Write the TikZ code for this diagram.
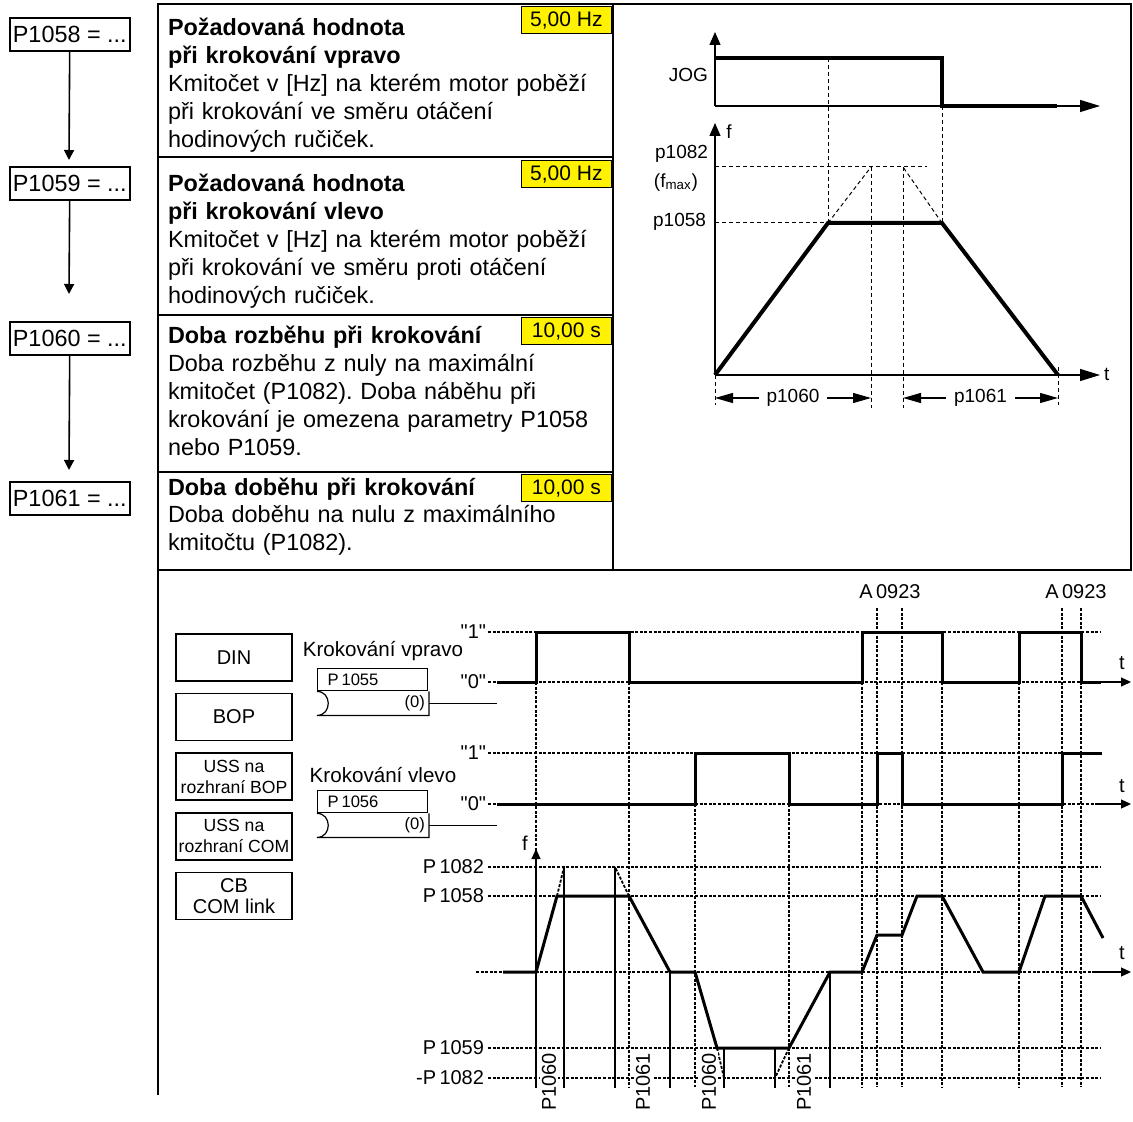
\documentclass[tikz,border=0pt]{standalone}
\usepackage{fontspec}
\newfontfamily\lsans{Liberation Sans}
\usetikzlibrary{arrows.meta, positioning}
\frenchspacing
\tikzset{
  every picture/.style={line width=1pt},
  frameline/.style={line width=1pt},
  parbox/.style={draw, line width=0.8pt, font=\lsans\fontsize{11.7}{14}\selectfont, minimum width=60pt, minimum height=16.5pt, inner sep=0pt, anchor=north west},
  desc/.style={font=\lsans\fontsize{11.7}{13.9}\selectfont, text width=222pt, align=left, inner sep=0pt, anchor=base west},
  val/.style={draw, fill=yellow, line width=0.6pt, font=\lsans\fontsize{10.5}{12}\selectfont, minimum width=45pt, minimum height=13.5pt, inner sep=0pt, anchor=north east},
  flow/.style={-{Triangle[length=5pt, width=5pt]}, line width=0.8pt},
  lbl/.style={font=\lsans\fontsize{10}{12}\selectfont, inner sep=0pt},
  sml/.style={font=\lsans\fontsize{9.5}{11}\selectfont, inner sep=0pt},
  tiny/.style={font=\lsans\fontsize{8.3}{10}\selectfont, inner sep=0pt},
  src/.style={draw, line width=0.8pt, minimum width=58pt, minimum height=23.5pt, inner sep=1pt, align=center, font=\lsans\fontsize{10}{10.5}\selectfont},
  pbox/.style={draw, line width=0.7pt, anchor=north west, text width=45pt, inner xsep=5pt, inner ysep=0pt, minimum height=11pt, align=left, font=\lsans\fontsize{8.3}{10}\selectfont},
  heavy/.style={line width=2pt},
  sig/.style={line width=1.5pt},
  tline/.style={line width=0.6pt},
  fine/.style={line width=0.5pt, dash pattern=on 2pt off 1.5pt},
  dotgrid/.style={line width=0.9pt, dash pattern=on 1.5pt off 0.8pt},
  vaxis/.style={-{Triangle[length=6.5pt, width=5.5pt]}, line width=0.6pt},
  haxis/.style={-{Triangle[length=10pt, width=6pt]}, line width=0.6pt},
  dim/.style={{Triangle[length=9pt, width=5pt]}-{Triangle[length=9pt, width=5pt]}, line width=0.6pt},
  taxis/.style={-{Triangle[length=5pt, width=4.5pt]}, line width=0.6pt},
}
\begin{document}
\begin{tikzpicture}[x=0.5pt, y=-0.5pt]
  \useasboundingbox (0,0) rectangle (1133,1122);
  % ---- frame ----
  \draw[frameline] (158,1095) -- (158,4) -- (1131,4) -- (1131,570) -- (158,570);
  \draw[frameline] (613,4) -- (613,570);
  \draw[frameline] (158,157) -- (613,157) (158,315) -- (613,315) (158,472) -- (613,472);
  % ---- parameter boxes (left) ----
  \node[parbox] (p1058) at (9,17) {P1058 = ...};
  \node[parbox] (p1059) at (9,166) {P1059 = ...};
  \node[parbox] (p1060) at (9,321) {P1060 = ...};
  \node[parbox] (p1061) at (9,481) {P1061 = ...};
  \coordinate (e1) at (69,160);
  \coordinate (e2) at (69,294);
  \coordinate (e3) at (69,470);
  \draw[flow] (p1058) -- (e1);
  \draw[flow] (p1059) -- (e2);
  \draw[flow] (p1060) -- (e3);
  % ---- descriptions ----
  \node[desc] (d1058) at (167,36) {\textbf{Požadovaná hodnota}\\\textbf{při krokování vpravo}\\Kmitočet v [Hz] na kterém motor poběží\\při krokování ve směru otáčení\\hodinových ručiček.};
  \node[desc] (d1059) at (167,192) {\textbf{Požadovaná hodnota}\\\textbf{při krokování vlevo}\\Kmitočet v [Hz] na kterém motor poběží\\při krokování ve směru proti otáčení\\hodinových ručiček.};
  \node[desc] (d1060) at (167,344) {\textbf{Doba rozběhu při krokování}\\Doba rozběhu z nuly na maximální\\kmitočet (P1082). Doba náběhu při\\krokování je omezena parametry P1058\\nebo P1059.};
  \node[desc] (d1061) at (167,495) {\textbf{Doba doběhu při krokování}\\Doba doběhu na nulu z maximálního\\kmitočtu (P1082).};
  \node[val] (v1058) at (612,6) {5,00 Hz};
  \node[val] (v1059) at (612,160) {5,00 Hz};
  \node[val] (v1060) at (612,317) {10,00 s};
  \node[val] (v1061) at (612,474) {10,00 s};
  % ---- JOG / f chart (top right) ----
  \draw[vaxis] (715,106) -- (715,32);
  \draw[haxis] (715,106) -- (1100,106);
  \node[sml, anchor=east] at (709,75) {JOG};
  \draw[fine] (828,58) -- (828,223) (942,106) -- (942,223);
  \draw[heavy] (715,58) -- (942,58) -- (942,106) -- (1057,106);
  \draw[vaxis] (715,375) -- (715,123);
  \draw[haxis] (715,375) -- (1100,375);
  \node[sml] at (729,132) {f};
  \node[sml, anchor=west] at (1103,374) {t};
  \draw[fine] (715,167) -- (927,167) (715,223) -- (828,223);
  \draw[fine] (828,223) -- (871,167) (942,223) -- (903,167);
  \draw[fine] (871,167) -- (871,408) (903,167) -- (903,408);
  \draw[fine] (715,375) -- (715,405) (1058,367) -- (1058,405);
  \draw[heavy] (715,375) -- (828,223) -- (942,223) -- (1058,375);
  \node[sml, anchor=east] at (709,154) {p1082};
  \node[sml, anchor=east] at (699,183) {(f\textsubscript{max})};
  \node[sml, anchor=east] at (707,222) {p1058};
  \draw[dim] (715,398) -- node[sml, fill=white, inner xsep=4pt, inner ysep=1pt] {p1060} (871,398);
  \draw[dim] (903,398) -- node[sml, fill=white, inner xsep=4pt, inner ysep=1pt] {p1061} (1058,398);
  % ---- command sources (bottom left) ----
  \node[src] (din) at (234,657.5) {DIN};
  \node[src, below=5.5pt of din] (bop) {BOP};
  \node[src, below=5.5pt of bop, font=\lsans\fontsize{8.8}{10.5}\selectfont] (ussbop) {USS na\\rozhraní BOP};
  \node[src, below=5.5pt of ussbop, font=\lsans\fontsize{8.8}{10.5}\selectfont] (usscom) {USS na\\rozhraní COM};
  \node[src, below=5.5pt of usscom] (cb) {CB\\COM link};
  % ---- jog inputs ----
  \node[lbl, font=\lsans\fontsize{10.3}{12}\selectfont] (jr) at (383,651) {Krokování vpravo};
  \node[pbox] (p1055) at (317,668) {P\,1055};
  \node[anchor=north west, minimum width=55pt, minimum height=11pt, inner sep=0pt] (s1055) at (p1055.south west) {};
  \draw[tline] (s1055.north west) .. controls +(15,0) and +(15,0) .. (s1055.south west) -- (s1055.south east) -- (s1055.north east);
  \node[tiny, anchor=east] at ([xshift=-1.5pt]s1055.east) {(0)};
  \coordinate (o1055) at ([xshift=34pt]s1055.east);
  \draw[tline] (s1055.east) -- (o1055);
  \node[lbl, font=\lsans\fontsize{10.3}{12}\selectfont] (jl) at (383,775) {Krokování vlevo};
  \node[pbox] (p1056) at (317,790) {P\,1056};
  \node[anchor=north west, minimum width=55pt, minimum height=11pt, inner sep=0pt] (s1056) at (p1056.south west) {};
  \draw[tline] (s1056.north west) .. controls +(15,0) and +(15,0) .. (s1056.south west) -- (s1056.south east) -- (s1056.north east);
  \node[tiny, anchor=east] at ([xshift=-1.5pt]s1056.east) {(0)};
  \coordinate (o1056) at ([xshift=34pt]s1056.east);
  \draw[tline] (s1056.east) -- (o1056);
  % ---- timing diagram ----
  \draw[dotgrid] (488,632) -- (1100,632) (488,682) -- (1100,682) (488,753) -- (1100,753) (488,804) -- (1100,804);
  \draw[dotgrid] (488,867) -- (1100,867) (488,896) -- (1100,896) (476,972) -- (1100,972) (488,1048) -- (1100,1048) (488,1078) -- (1100,1078);
  \draw[dotgrid] (536,682) -- (536,1087) (629,682) -- (629,1087) (695,804) -- (695,1087) (789,804) -- (789,1087)
                 (862,682) -- (862,1087) (942,682) -- (942,1087) (1019,682) -- (1019,1087);
  \draw[dotgrid] (877,608) -- (877,1087) (902,608) -- (902,1087) (1062,608) -- (1062,1087) (1081,608) -- (1081,1087);
  \draw[dotgrid] (557,896) -- (564,867) (629,896) -- (615,867) (717,1048) -- (724,1078) (789,1048) -- (775,1078);
  \node[lbl] at (890,592) {A\,0923};
  \node[lbl] at (1076,592) {A\,0923};
  \node[lbl, anchor=east] at (487,632) {"1"};
  \node[lbl, anchor=east] at (487,682) {"0"};
  \node[lbl, anchor=east] at (487,753) {"1"};
  \node[lbl, anchor=east] at (487,804) {"0"};
  \node[lbl, anchor=east] at (485,867) {P\,1082};
  \node[lbl, anchor=east] at (485,896) {P\,1058};
  \node[lbl, anchor=east] at (485,1048) {P\,1059};
  \node[lbl, anchor=east] at (485,1078) {-P\,1082};
  \draw[taxis] (1095,682) -- (1131,682);
  \draw[taxis] (1095,804) -- (1131,804);
  \draw[taxis] (1095,972) -- (1131,972);
  \node[lbl] at (1122,663) {t};
  \node[lbl] at (1122,786) {t};
  \node[lbl] at (1122,953) {t};
  \draw[taxis] (536,1088) -- (536,849);
  \node[lbl] at (525,843) {f};
  \draw[tline] (564,867) -- (564,1088) (615,867) -- (615,1088) (670,972) -- (670,1088)
               (724,1048) -- (724,1088) (775,1048) -- (775,1088) (830,972) -- (830,1088);
  \draw[sig] (497,682) -- (536,682) -- (536,632) -- (629,632) -- (629,682) -- (862,682) -- (862,632) -- (942,632)
             -- (942,682) -- (1019,682) -- (1019,632) -- (1081,632) -- (1081,682) -- (1101,682);
  \draw[sig] (497,804) -- (695,804) -- (695,753) -- (789,753) -- (789,804) -- (877,804) -- (877,753) -- (902,753)
             -- (902,804) -- (1062,804) -- (1062,753) -- (1102,753);
  \draw[sig] (503,972) -- (536,972) -- (557,896) -- (629,896) -- (670,972) -- (695,972) -- (717,1048) -- (789,1048)
             -- (830,972) -- (862,972) -- (877,935) -- (902,935) -- (917,896) -- (942,896) -- (983,972) -- (1019,972)
             -- (1045,896) -- (1081,896) -- (1103,938);
  \node[lbl, rotate=90, fill=white, inner sep=1pt] at (549,1082) {P1060};
  \node[lbl, rotate=90, fill=white, inner sep=1pt] at (643,1082) {P1061};
  \node[lbl, rotate=90, fill=white, inner sep=1pt] at (709,1082) {P1060};
  \node[lbl, rotate=90, fill=white, inner sep=1pt] at (804,1082) {P1061};
\end{tikzpicture}
\end{document}
